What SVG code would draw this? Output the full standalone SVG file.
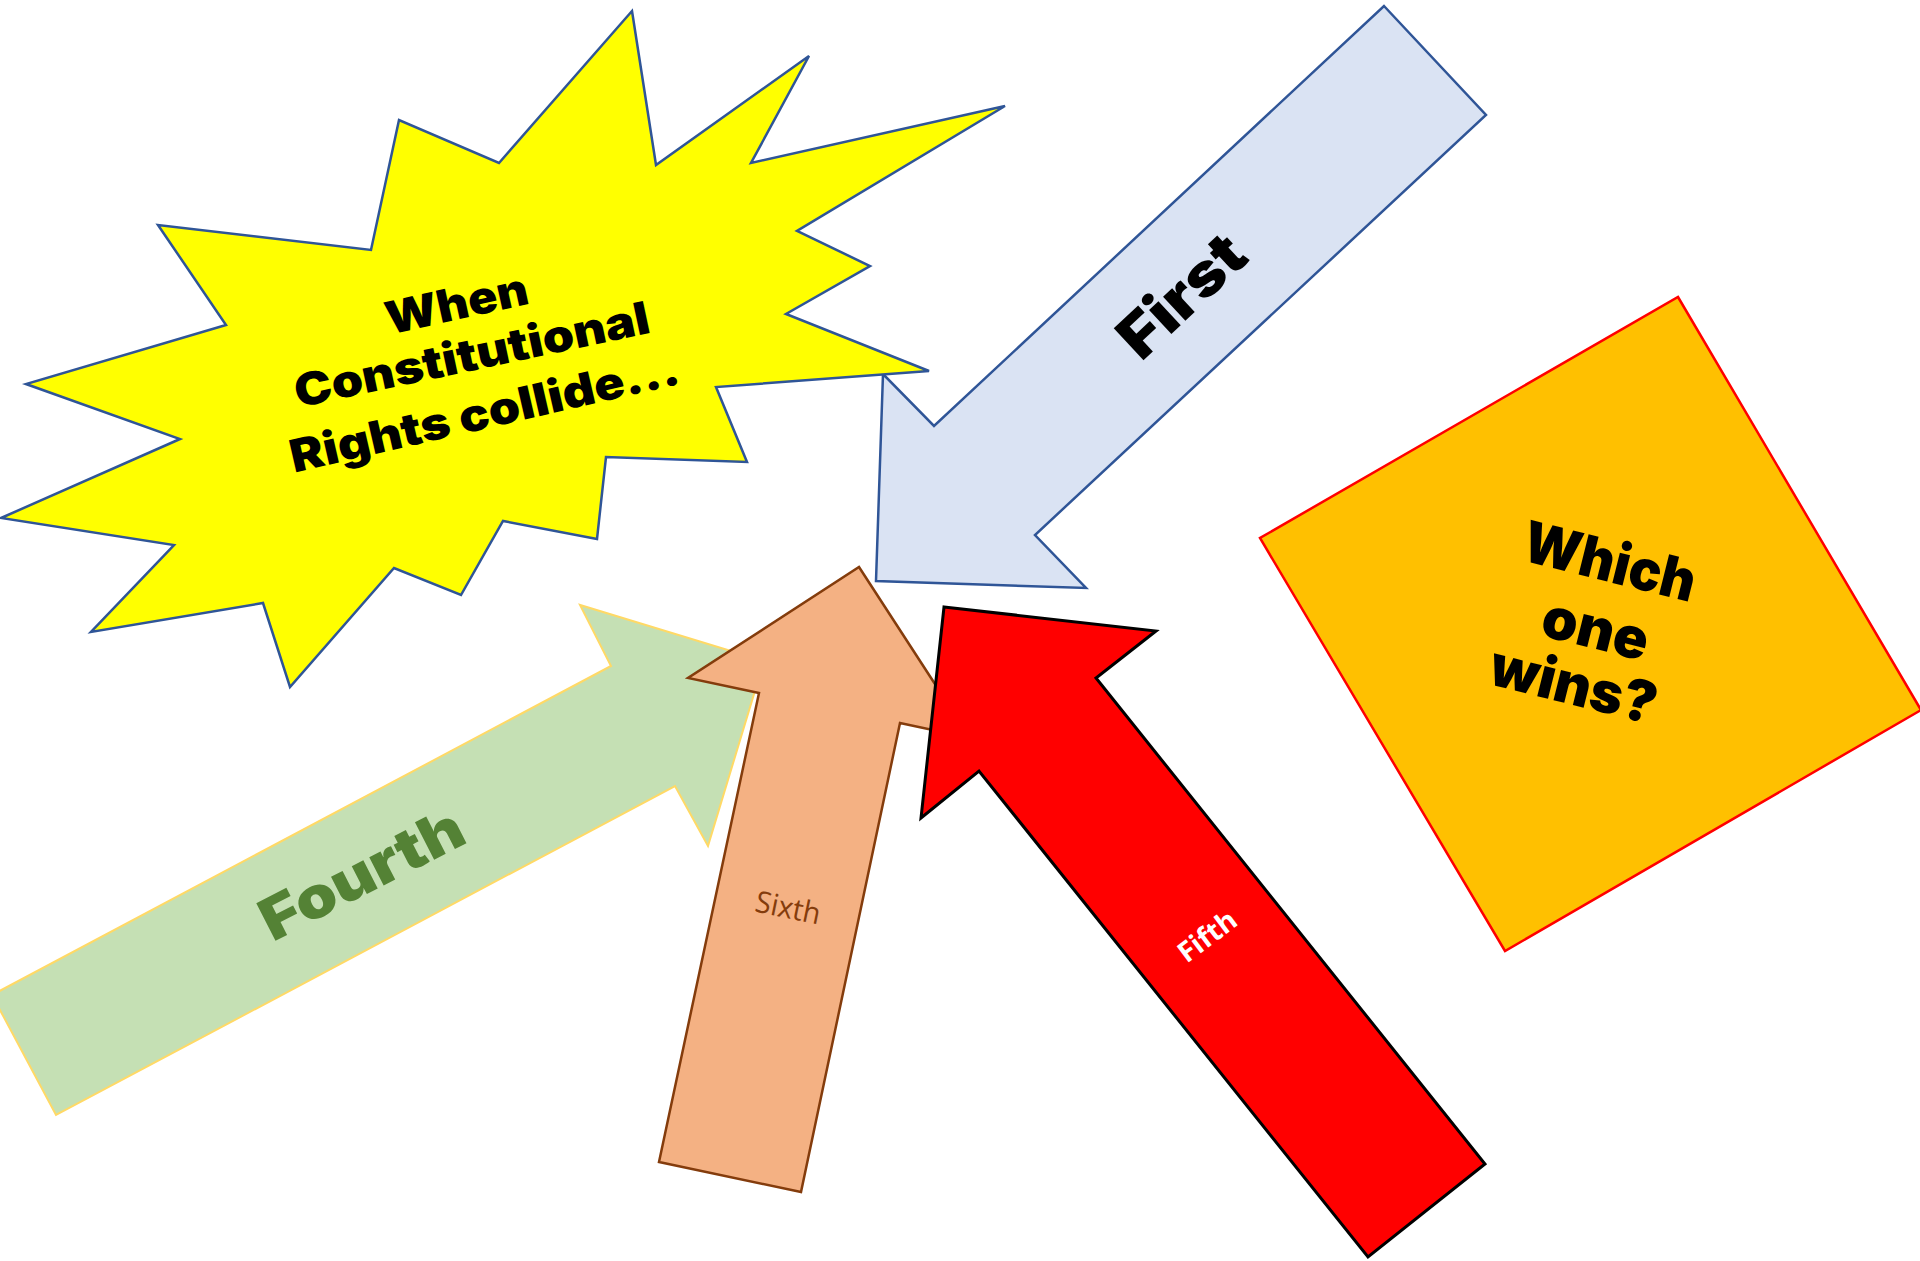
<svg xmlns="http://www.w3.org/2000/svg" width="1920" height="1261" viewBox="0 0 1920 1261">
<style>
.blk{font-family:Inter,"DejaVu Sans","Liberation Sans",sans-serif;font-weight:900;fill:#000;text-anchor:middle}
.cal{font-family:"Open Sans","Noto Sans","Liberation Sans",sans-serif;text-anchor:middle}
</style>
<rect width="1920" height="1261" fill="#fff"/>
<g id="first">
<polygon points="1384,6 1486,115 1035,535 1086,588 876,581 883,374 934,426" fill="#DAE3F3" stroke="#2F5597" stroke-width="2.5" stroke-linejoin="miter"/>
<text class="blk" font-size="60" textLength="150" lengthAdjust="spacingAndGlyphs" transform="translate(1196,311) rotate(-43)">First</text>
</g>
<g id="burst">
<polygon points="632,11 656,165 809,56 751,163 1005,106 797,231 870,266 786,314 929,371 716,387 747,462 606,457 597,539 503,521 461,595 394,568 290,687 263,603 91,632 174,545 1,518 180,439 26,384 226,325 158,225 371,250 399,120 499,163" fill="#FFFF00" stroke="#2F5597" stroke-width="2.5"/>
<text class="blk" font-size="45" textLength="145" lengthAdjust="spacingAndGlyphs" transform="translate(460,319) rotate(-12.5)">When</text>
<text class="blk" font-size="45" textLength="362" lengthAdjust="spacingAndGlyphs" transform="translate(475,370) rotate(-12)">Constitutional</text>
<text class="blk" font-size="45" textLength="398" lengthAdjust="spacingAndGlyphs" transform="translate(488,428) rotate(-13)">Rights collide...</text>
</g>
<g id="wins">
<polygon points="1678,297 1921,710 1505,951 1260,538" fill="#FFC000" stroke="#FF0000" stroke-width="2.5"/>
<text class="blk" font-size="57" textLength="176" lengthAdjust="spacingAndGlyphs" transform="translate(1605,581) rotate(14)">Which</text>
<text class="blk" font-size="57" textLength="108" lengthAdjust="spacingAndGlyphs" transform="translate(1591,648) rotate(14)">one</text>
<text class="blk" font-size="57" textLength="170" lengthAdjust="spacingAndGlyphs" transform="translate(1569,704) rotate(14)">wins?</text>
</g>
<g id="fourth">
<polygon points="-8,995 611,666 580,605 764,661 708,846 675,786 56,1115" fill="#C5E0B4" stroke="#FFD966" stroke-width="2"/>
<text class="blk" font-size="58" style="fill:#548235" textLength="221" lengthAdjust="spacingAndGlyphs" transform="translate(371,892) rotate(-27.1)">Fourth</text>
</g>
<g id="sixth">
<polygon points="859,567 970,738 900,723 801,1192 659,1162 759,693 688,678" fill="#F4B183" stroke="#843C0C" stroke-width="2.5"/>
<text class="cal" font-size="30" fill="#843C0C" textLength="66" lengthAdjust="spacingAndGlyphs" transform="translate(786,918) rotate(11.6)">Sixth</text>
</g>
<g id="fifth">
<polygon points="944,607 1156,631 1096,678 1485,1164 1368,1257 979,771 921,818" fill="#FF0000" stroke="#000" stroke-width="3"/>
<text class="cal" font-size="28" font-weight="700" fill="#fff" textLength="66" lengthAdjust="spacingAndGlyphs" transform="translate(1213,944) rotate(-37)">Fifth</text>
</g>
<g id="connectors"/>
</svg>
